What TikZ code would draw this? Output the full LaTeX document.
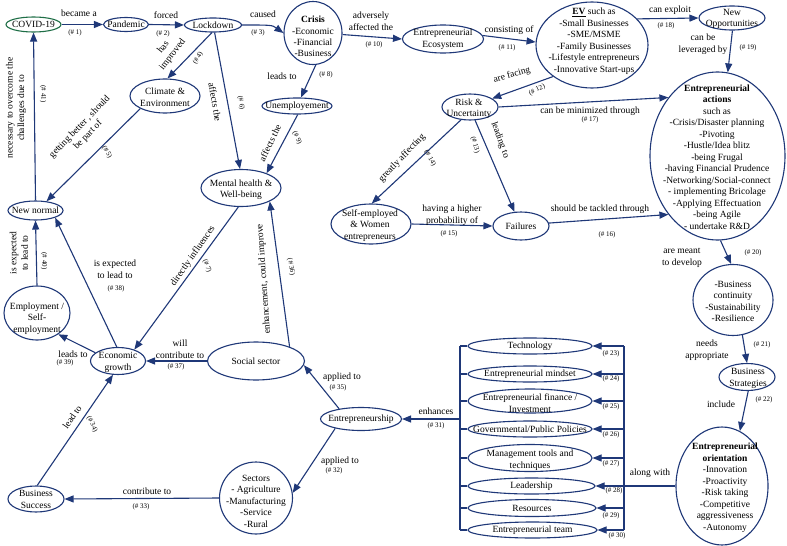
\documentclass[tikz,border=0pt]{standalone}
\usepackage{fontspec}
\setmainfont{Liberation Serif}
\usetikzlibrary{shapes.geometric,arrows.meta}
\definecolor{navy}{RGB}{31,56,120}
\definecolor{cgreen}{RGB}{30,110,70}
\begin{document}
\begin{tikzpicture}[x=1pt,y=-1pt,
  ell/.style={ellipse,draw=navy,line width=1.1pt,inner sep=0pt},
  txt/.style={align=center,inner sep=0pt,font=\fontsize{9.5}{11.5}\selectfont},
  lab/.style={align=center,inner sep=0pt,font=\fontsize{9.5}{11.5}\selectfont},
  num/.style={inner sep=0pt,font=\fontsize{7}{8}\selectfont},
  arr/.style={draw=navy,line width=1.1pt,-{Triangle[length=9pt,width=7pt]}},
  con/.style={draw=navy,line width=1.1pt},
]
\fill[white] (0,0) rectangle (787,546);
\useasboundingbox (0,0) rectangle (787,546);

% ---------- nodes ----------
\node[ell,draw=cgreen,minimum width=55pt,minimum height=15pt] (covid) at (33.5,24.5) {};
\node[txt] (covidt) at (covid) {COVID-19};
\node[ell,minimum width=45pt,minimum height=14pt] (pand) at (126,24.5) {};
\node[txt] (pandt) at (pand) {Pandemic};
\node[ell,minimum width=57pt,minimum height=14pt] (lock) at (213,25) {};
\node[txt] (lockt) at (lock) {Lockdown};
\node[ell,minimum width=58pt,minimum height=63pt] (crisis) at (313,33) {};
\node[txt] (crisist) at (313,36.5) {\textbf{Crisis}\\-Economic\\-Financial\\-Business};
\node[ell,minimum width=81pt,minimum height=28pt] (eco) at (443,39) {};
\node[txt] (ecot) at (443,39) {Entrepreneurial\\Ecosystem};
\node[ell,minimum width=112pt,minimum height=86pt] (ev) at (592,45) {};
\node[txt] (evt) at (594,41) {\textbf{\underline{EV}} such as\\-Small Businesses\\-SME/MSME\\-Family Businesses\\-Lifestyle entrepreneurs\\-Innovative Start-ups};
\node[ell,minimum width=66pt,minimum height=24pt] (newopp) at (732,18) {};
\node[txt] (newoppt) at (732,19) {New\\Opportunities};
\node[ell,minimum width=135pt,minimum height=168pt] (actions) at (717.5,156) {};
\node[txt] (actionst) at (717,157) {\textbf{Entrepreneurial}\\\textbf{actions}\\such as\\-Crisis/Disaster planning\\-Pivoting\\-Hustle/Idea blitz\\-being Frugal\\-having Financial Prudence\\-Networking/Social-connect\\- implementing Bricolage\\-Applying Effectuation\\-being Agile\\- undertake R\&D};
\node[ell,minimum width=56pt,minimum height=26pt] (risk) at (470,107) {};
\node[txt] (riskt) at (469,108.5) {Risk \&\\Uncertainty};
\node[ell,minimum width=70pt,minimum height=16pt] (unemp) at (297,106) {};
\node[txt] (unempt) at (unemp) {Unemployement};
\node[ell,minimum width=70pt,minimum height=34pt] (climate) at (165,96) {};
\node[txt] (climatet) at (165,97) {Climate \&\\Environment};
\node[ell,minimum width=80pt,minimum height=37pt] (mental) at (241,188) {};
\node[txt] (mentalt) at (241,189.5) {Mental health \&\\Well-being};
\node[ell,minimum width=55pt,minimum height=19pt] (newnormal) at (35.5,210.5) {};
\node[txt] (newnormalt) at (newnormal) {New normal};
\node[ell,minimum width=80pt,minimum height=40pt] (selfemp) at (371,224) {};
\node[txt] (selfempt) at (370,225.5) {Self-employed\\\& Women\\entrepreneurs};
\node[ell,minimum width=56pt,minimum height=28pt] (fail) at (521,226) {};
\node[txt] (failt) at (fail) {Failures};
\node[ell,minimum width=80pt,minimum height=71pt] (bc) at (733,300) {};
\node[txt] (bct) at (733,301.5) {-Business\\continuity\\-Sustainability\\-Resilience};
\node[ell,minimum width=56pt,minimum height=27pt] (bs) at (747,377) {};
\node[txt] (bst) at (748,378.5) {Business\\Strategies};
\node[ell,minimum width=92pt,minimum height=118pt] (eo) at (722,486) {};
\node[txt] (eot) at (725,487.5) {\textbf{Entrepreneurial}\\\textbf{orientation}\\-Innovation\\-Proactivity\\-Risk taking\\-Competitive\\aggressiveness\\-Autonomy};
\node[ell,minimum width=66pt,minimum height=54pt] (emp) at (37,313) {};
\node[txt] (empt) at (37,318.5) {Employment /\\Self-\\employment};
\node[ell,minimum width=55pt,minimum height=27pt] (econ) at (118,361) {};
\node[txt] (econt) at (118,362.5) {Economic\\growth};
\node[ell,minimum width=97pt,minimum height=38pt] (social) at (256,361) {};
\node[txt] (socialt) at (social) {Social sector};
\node[ell,minimum width=81pt,minimum height=23pt] (entre) at (361,419) {};
\node[txt] (entret) at (entre) {Entrepreneurship};
\node[ell,minimum width=73pt,minimum height=72pt] (sectors) at (256,498) {};
\node[txt] (sectorst) at (256,501) {Sectors\\- Agriculture\\-Manufacturing\\-Service\\-Rural};
\node[ell,minimum width=56pt,minimum height=26pt] (bsucc) at (36,499) {};
\node[txt] (bsucct) at (36,499.5) {Business\\Success};

\node[ell,minimum width=124pt,minimum height=16pt] (tech) at (530,346) {};
\node[txt] (techt) at (tech) {Technology};
\node[ell,minimum width=124pt,minimum height=16pt] (mind) at (530,374) {};
\node[txt] (mindt) at (mind) {Entrepreneurial mindset};
\node[ell,minimum width=124pt,minimum height=24pt] (fin) at (530,401) {};
\node[txt] (fint) at (530,403) {Entrepreneurial finance /\\Investment};
\node[ell,minimum width=124pt,minimum height=16pt] (gov) at (530,429) {};
\node[txt] (govt) at (gov) {Governmental/Public Policies};
\node[ell,minimum width=124pt,minimum height=27pt] (mgmt) at (530,458) {};
\node[txt] (mgmtt) at (530,460) {Management tools and\\techniques};
\node[ell,minimum width=127pt,minimum height=16pt] (lead) at (531.5,486) {};
\node[txt] (leadt) at (lead) {Leadership};
\node[ell,minimum width=128pt,minimum height=17pt] (res) at (532,508) {};
\node[txt] (rest) at (res) {Resources};
\node[ell,minimum width=129pt,minimum height=16pt] (team) at (532.5,530) {};
\node[txt] (teamt) at (team) {Entrepreneurial team};

% ---------- connectors ----------
\coordinate (c3) at (272,25);
\coordinate (rb) at (624,0);
\coordinate (lb) at (460,0);

\draw[arr] (covid.east) -- (pand.west);
\draw[arr] (pand.east) -- (lock.west);
\draw[arr] (lock.east) .. controls (c3) .. (crisis.west);
\draw[arr] (lock.262) -- (climate.82);
\draw[arr] (climate.207) -- (newnormal.40);
\draw[arr] (lock.282) -- (mental.93);
\draw[arr] (mental.262) -- (econ.35);
\draw[arr] (crisis.275) -- (unemp.65);
\draw[arr] (unemp.275) -- (mental.30);
\draw[arr] (crisis.-3) -- (eco.west);
\draw[arr] (eco.5) -- (ev.177);
\draw[arr] (ev.219) -- (risk.21);
\draw[arr] (risk.291) -- (fail.115);
\draw[arr] (risk.235) -- (selfemp.88);
\draw[arr] (selfemp.east) -- (fail.west);
\draw[arr] (fail.6) -- (actions.230);
\draw[arr] (risk.east) -- (actions.130);
\draw[arr] (ev.30) -- (newopp.west);
\draw[arr] (newopp.272) -- (actions.83);
\draw[arr] (actions.272) -- (bc.93);
\draw[arr] (bc.285) -- (bs.north);
\draw[arr] (bs.275) -- (eo.72);
\draw[con] (tech.east -| rb) -- (team.east -| rb);
\foreach \n in {tech,mind,fin,gov,mgmt,lead,res,team}
  \draw[arr] (\n.east -| rb) -- (\n.east);
\draw[con] (eo.west -| rb) -- (eo.west);
\draw[con] (tech.west -| lb) -- (team.west -| lb);
\foreach \n in {tech,mind,fin,gov,mgmt,lead,res,team}
  \draw[con] (\n.west -| lb) -- (\n.west);
\draw[arr] (entre.east -| lb) -- (entre.east);
\draw[arr] (entre.200) -- (sectors.8);
\draw[arr] (sectors.west) -- (bsucc.east);
\draw[arr] (bsucc.85) -- (econ.250);
\draw[arr] (entre.155) -- (social.355);
\draw[arr] (social.23) -- (mental.335);
\draw[arr] (social.west) -- (econ.east);
\draw[arr] (econ.95) -- (newnormal.-20);
\draw[arr] (econ.160) -- (emp.315);
\draw[arr] (emp.north) -- (newnormal.south);
\draw[arr] (newnormal.north) -- (covid.south);

% ---------- labels ----------
\node[lab] (l1) at (79,13) {became a};
\node[lab] (l2) at (166,15) {forced};
\node[lab] (l3) at (263,14) {caused};
\node[lab,rotate=52] (l4) at (168,51) {has\\improved};
\node[lab,rotate=46] (l5) at (84,131) {getting better , should\\be part of};
\node[lab,rotate=-80] (l6) at (215,102) {affects the};
\node[lab,rotate=55] (l7) at (193,256) {directly influences};
\node[lab] (l8) at (282,76) {leads to};
\node[lab,rotate=64] (l9) at (270,143) {affects the};
\node[lab] (l10) at (371,21) {adversely\\affected the};
\node[lab] (l11) at (509,30) {consisting of};
\node[lab,rotate=15] (l12) at (512,75) {are facing};
\node[lab,rotate=-70] (l13) at (500,140) {leading to};
\node[lab,rotate=46] (l14) at (402,158) {greatly affecting};
\node[lab] (l15) at (452,215) {having a higher\\probability of};
\node[lab] (l16) at (600,209) {should be tackled through};
\node[lab] (l17) at (590,111) {can be minimized through};
\node[lab] (l18) at (670,10) {can exploit};
\node[lab] (l19) at (703,44) {can be\\leveraged by};
\node[lab] (l20) at (682,258) {are meant\\to develop};
\node[lab] (l21) at (707,350) {needs\\appropriate};
\node[lab] (l22) at (721,404) {include};
\node[lab] (lalong) at (650,473) {along with};
\node[lab] (l31) at (436,411) {enhances};
\node[lab] (l32) at (340,461) {applied to};
\node[lab] (l33) at (147,491) {contribute to};
\node[lab,rotate=55] (l34) at (72,417) {lead to};
\node[lab] (l35) at (342,377) {applied to};
\node[lab,rotate=94] (l36) at (264,279) {enhancement, could improve};
\node[lab] (l37) at (180,349) {will\\contribute to};
\node[lab] (l38) at (115,269) {is expected\\to lead to};
\node[lab] (l39) at (73,354) {leads to};
\node[lab,rotate=90] (l40) at (19,253) {is expected\\to lead to};
\node[lab,rotate=90] (l41) at (16,108) {necessary to overcome the\\challenges due to};

\node[num] (n1) at (75,33) {(\# 1)};
\node[num] (n2) at (163,34) {(\# 2)};
\node[num] (n3) at (258,33) {(\# 3)};
\node[num,rotate=60] (n4) at (198,58) {(\# 4)};
\node[num,rotate=-60] (n5) at (107,152) {(\# 5)};
\node[num,rotate=-80] (n6) at (241,103) {(\# 6)};
\node[num,rotate=-70] (n7) at (207,266) {(\# 7)};
\node[num] (n8) at (326,75) {(\# 8)};
\node[num,rotate=-65] (n9) at (297,138) {(\# 9)};
\node[num] (n10) at (374,45) {(\# 10)};
\node[num] (n11) at (507,48) {(\# 11)};
\node[num,rotate=25] (n12) at (537,90) {(\# 12)};
\node[num,rotate=-75] (n13) at (475,145) {(\# 13)};
\node[num,rotate=-60] (n14) at (430,158) {(\# 14)};
\node[num] (n15) at (449,234) {(\# 15)};
\node[num] (n16) at (607,235) {(\# 16)};
\node[num] (n17) at (590,120) {(\# 17)};
\node[num] (n18) at (666,26) {(\# 18)};
\node[num] (n19) at (748,48) {(\# 19)};
\node[num] (n20) at (753,253) {(\# 20)};
\node[num] (n21) at (762,345) {(\# 21)};
\node[num] (n22) at (764,400) {(\# 22)};
\node[num] (n23) at (611,354) {(\# 23)};
\node[num] (n24) at (611,379) {(\# 24)};
\node[num] (n25) at (611,407) {(\# 25)};
\node[num] (n26) at (611,435) {(\# 26)};
\node[num] (n27) at (611,464) {(\# 27)};
\node[num] (n28) at (614,491) {(\# 28)};
\node[num] (n29) at (611,516) {(\# 29)};
\node[num] (n30) at (617,536) {(\# 30)};
\node[num] (n31) at (436,426) {(\# 31)};
\node[num] (n32) at (334,471) {(\# 32)};
\node[num] (n33) at (141,507) {(\# 33)};
\node[num,rotate=-65] (n34) at (92,424) {(\# 34)};
\node[num] (n35) at (338,388) {(\# 35)};
\node[num,rotate=-80] (n36) at (291,267) {(\# 36)};
\node[num] (n37) at (176,367) {(\# 37)};
\node[num] (n38) at (116,289) {(\# 38)};
\node[num] (n39) at (65,363) {(\# 39)};
\node[num,rotate=-90] (n40) at (44,261) {(\# 40)};
\node[num,rotate=-90] (n41) at (43,94) {(\# 41)};
\end{tikzpicture}
\end{document}
